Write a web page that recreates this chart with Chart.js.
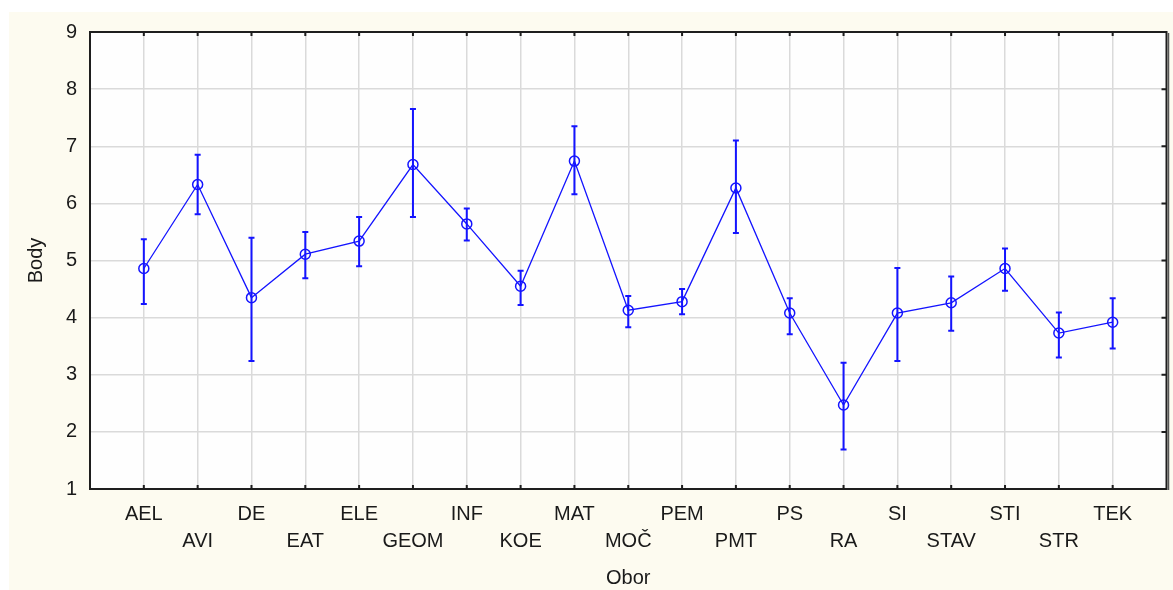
<!DOCTYPE html>
<html>
<head>
<meta charset="utf-8">
<script src="https://cdn.jsdelivr.net/npm/chart.js@4.4.1/dist/chart.umd.min.js"></script>
<style>
  html, body { margin: 0; padding: 0; background: #ffffff; }
  #panel {
    position: absolute; left: 9px; top: 12px;
    width: 1164px; height: 578px;
    background: #fdfbf0;
  }
  canvas { display: block; }
</style>
</head>
<body>
<div id="panel"><canvas id="chart" width="1164" height="578"></canvas></div>
<script>
// Study fields (Obor) and their mean scores (Body) with interval bounds
const categories = ['AEL', 'AVI', 'DE', 'EAT', 'ELE', 'GEOM', 'INF', 'KOE', 'MAT', 'MOČ',
                    'PEM', 'PMT', 'PS', 'RA', 'SI', 'STAV', 'STI', 'STR', 'TEK'];
const means = [4.86, 6.33, 4.35, 5.11, 5.34, 6.68, 5.64, 4.55, 6.74, 4.13,
               4.28, 6.27, 4.08, 2.47, 4.08, 4.26, 4.86, 3.73, 3.92];
const lower = [4.24, 5.81, 3.24, 4.69, 4.90, 5.76, 5.35, 4.22, 6.16, 3.83,
               4.06, 5.48, 3.71, 1.69, 3.24, 3.77, 4.47, 3.30, 3.46];
const upper = [5.37, 6.85, 5.40, 5.50, 5.76, 7.65, 5.91, 4.82, 7.35, 4.38,
               4.50, 7.10, 4.34, 3.21, 4.87, 4.72, 5.21, 4.09, 4.34];
const yTicks = [1, 2, 3, 4, 5, 6, 7, 8, 9];

const BLUE = '#1414ff';
const FONT = "'Liberation Sans', Arial, sans-serif";

const points = categories.map((c, i) => ({ x: i + 1, y: means[i] }));

// White plotting area behind the grid
const plotBackground = {
  id: 'plotBackground',
  beforeDraw(chart) {
    const { ctx, chartArea: a } = chart;
    ctx.save();
    ctx.fillStyle = '#fefefe';
    ctx.fillRect(a.left, a.top, a.right - a.left, a.bottom - a.top);
    ctx.restore();
  }
};

// Vertical interval bars with end caps
const errorBars = {
  id: 'errorBars',
  afterDatasetsDraw(chart) {
    const { ctx, scales: { x, y } } = chart;
    ctx.save();
    ctx.strokeStyle = BLUE;
    ctx.lineWidth = 2;
    const cap = 3;
    categories.forEach((c, i) => {
      const px = x.getPixelForValue(i + 1);
      const lo = y.getPixelForValue(lower[i]);
      const hi = y.getPixelForValue(upper[i]);
      ctx.beginPath();
      ctx.moveTo(px, lo); ctx.lineTo(px, hi);
      ctx.moveTo(px - cap, lo); ctx.lineTo(px + cap, lo);
      ctx.moveTo(px - cap, hi); ctx.lineTo(px + cap, hi);
      ctx.stroke();
    });
    ctx.restore();
  }
};

// Dark frame around the plot with short inward tick marks
const frame = {
  id: 'frame',
  afterDraw(chart) {
    const { ctx, chartArea: a, scales: { x, y } } = chart;
    ctx.save();
    ctx.strokeStyle = '#1e1e1e';
    ctx.lineWidth = 2;
    ctx.beginPath();
    categories.forEach((c, i) => {
      const px = x.getPixelForValue(i + 1);
      ctx.moveTo(px, a.top); ctx.lineTo(px, a.top + 4);
      ctx.moveTo(px, a.bottom); ctx.lineTo(px, a.bottom - 4);
    });
    yTicks.forEach(v => {
      const py = y.getPixelForValue(v);
      ctx.moveTo(a.right, py); ctx.lineTo(a.right - 5, py);
    });
    ctx.stroke();
    ctx.strokeRect(a.left, a.top, a.right - a.left, a.bottom - a.top);
    ctx.strokeStyle = '#555555';
    ctx.lineWidth = 1.5;
    ctx.beginPath();
    ctx.moveTo(a.right + 2, a.top + 1);
    ctx.lineTo(a.right + 2, a.bottom + 1);
    ctx.stroke();
    ctx.restore();
  }
};

new Chart(document.getElementById('chart'), {
  type: 'line',
  data: {
    datasets: [{
      data: points,
      borderColor: BLUE,
      borderWidth: 1.3,
      pointStyle: 'circle',
      pointRadius: 5,
      pointBorderWidth: 1.5,
      pointBorderColor: BLUE,
      pointBackgroundColor: 'rgba(0,0,0,0)',
      tension: 0,
      fill: false
    }]
  },
  options: {
    responsive: false,
    animation: false,
    devicePixelRatio: 1,
    layout: { padding: { left: 0, top: 20, right: 5, bottom: 0 } },
    plugins: { legend: { display: false }, tooltip: { enabled: false } },
    scales: {
      x: {
        type: 'linear',
        min: 0,
        max: 20,
        afterBuildTicks(scale) {
          scale.ticks = categories.map((c, i) => ({ value: i + 1 }));
        },
        afterFit(scale) {
          scale.height = 101;
          scale.paddingLeft = 0;
          scale.paddingRight = 0;
        },
        ticks: {
          autoSkip: false,
          maxRotation: 0,
          padding: 12,
          color: '#1a1a1a',
          font: { family: FONT, size: 20, lineHeight: 1.35 },
          callback(value) {
            const i = Math.round(value) - 1;
            const name = categories[i];
            return i % 2 === 0 ? [name, ''] : ['', name];
          }
        },
        grid: { color: '#dadada', lineWidth: 1.5, drawTicks: false },
        border: { display: false },
        title: {
          display: true,
          text: 'Obor',
          color: '#1a1a1a',
          font: { family: FONT, size: 20 },
          padding: { top: 0, bottom: 0 }
        }
      },
      y: {
        min: 1,
        max: 9,
        afterBuildTicks(scale) {
          scale.ticks = yTicks.map(v => ({ value: v }));
        },
        afterFit(scale) {
          scale.width = 81;
          scale.paddingTop = 0;
          scale.paddingBottom = 0;
        },
        ticks: {
          padding: 13,
          color: '#1a1a1a',
          font: { family: FONT, size: 20 }
        },
        grid: { color: '#dadada', lineWidth: 1.5, drawTicks: false },
        border: { display: false },
        title: {
          display: true,
          text: 'Body',
          color: '#1a1a1a',
          font: { family: FONT, size: 20 },
          padding: { top: 15, bottom: 0 }
        }
      }
    }
  },
  plugins: [plotBackground, errorBars, frame]
});
</script>
</body>
</html>
